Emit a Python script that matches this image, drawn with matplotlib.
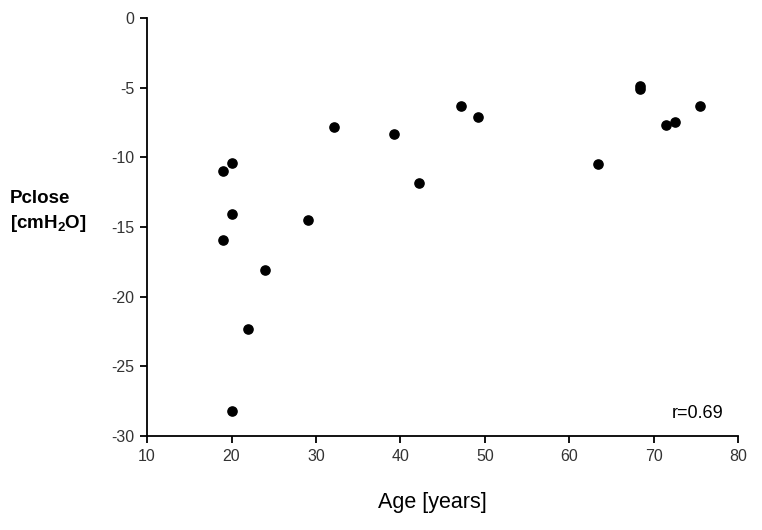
import matplotlib.pyplot as plt

plt.rcParams['font.family'] = ['Liberation Sans', 'DejaVu Sans']
plt.rcParams['mathtext.fontset'] = 'custom'
plt.rcParams['mathtext.rm'] = 'Liberation Sans'
plt.rcParams['mathtext.bf'] = 'Liberation Sans:bold'
plt.rcParams['axes.unicode_minus'] = False

# Age [years] vs Pclose [cmH2O]
age = [19, 20, 20, 19, 24, 22, 20, 29.1, 32.1, 39.2, 42.2, 47.2, 49.2,
       63.4, 68.4, 68.4, 71.4, 72.5, 75.5]
pclose = [-10.95, -10.4, -14.05, -15.95, -18.1, -22.3, -28.2, -14.5, -7.8,
          -8.3, -11.85, -6.33, -7.1, -10.45, -4.9, -5.1, -7.7, -7.48, -6.3]
r_text = "r=0.69"

fig = plt.figure(figsize=(7.62, 5.30), dpi=100)
ax = fig.add_axes([0.193, 0.177, 0.776, 0.789])

ax.scatter(age, pclose, s=44, color='black', zorder=3)

ax.set_xlim(10, 80)
ax.set_ylim(-30, 0)
ax.set_xticks(range(10, 81, 10))
ax.set_yticks(range(-30, 1, 5))

for side in ['top', 'right']:
    ax.spines[side].set_visible(False)
for side in ['left', 'bottom']:
    ax.spines[side].set_linewidth(1.3)
ax.tick_params(direction='out', length=5, width=1.3, labelsize=11.5,
               labelcolor='#333333', pad=4)

ax.text(0.975, 0.055, r_text, transform=ax.transAxes, ha='right',
        va='center', fontsize=13)

fig.text(0.568, 0.051, "Age [years]", ha='center', va='center', fontsize=15.5)
fig.text(0.013, 0.626, "Pclose", ha='left', va='center', fontsize=13.5,
         fontweight='bold')
fig.text(0.013, 0.578, r"[cmH$_\mathbf{2}$O]", ha='left', va='center',
         fontsize=13.5, fontweight='bold')

fig.savefig('out.png', dpi=100)
